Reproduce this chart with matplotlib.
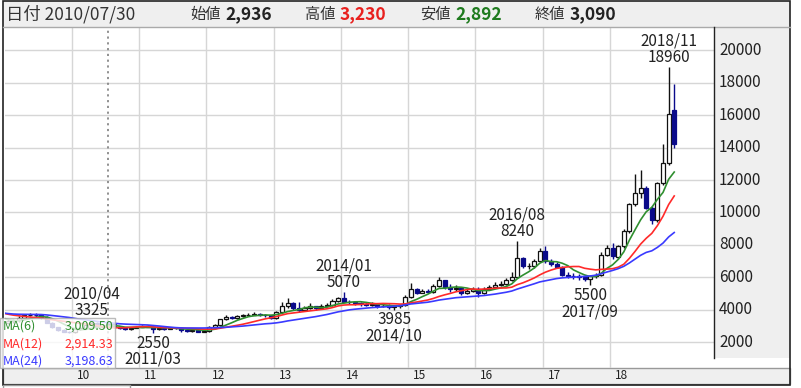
import pandas as pd
import matplotlib.pyplot as plt
from matplotlib.patches import Rectangle
from matplotlib import transforms

plt.rcParams['font.family'] = ['Noto Sans CJK JP', 'DejaVu Sans']

# monthly OHLC, 2008/01 .. 2018/12
opens = [4300, 4200, 4100, 4000, 4100, 4200, 4000, 3900, 3800, 3600, 3300, 3200,
         3200, 3300, 3350, 3500, 3650, 3700, 3650, 3550, 3200, 2900, 2750, 2650,
         2600, 2814, 2850, 3050, 3200, 2931, 2936, 3090, 2900, 2850, 2800, 2880,
         2950, 2980, 2950, 2800, 2850, 2800, 2850, 2870, 2750, 2700, 2720, 2650,
         2700, 2950, 3050, 3400, 3550, 3500, 3600, 3650, 3700, 3750, 3700, 3650,
         3500, 3850, 4200, 4400, 4100, 4000, 4100, 4200, 4100, 4250, 4300, 4550,
         4700, 4500, 4450, 4400, 4350, 4300, 4350, 4200, 4250, 4150, 4200, 4300,
         4800, 5300, 5050, 5150, 5100, 5450, 5800, 5400, 5300, 5350, 5000, 5150,
         5300, 5000, 5250, 5400, 5500, 5600, 5800, 6000, 7200, 6700, 6700, 7000,
         7600, 7000, 6800, 6650, 6150, 6100, 6050, 6000, 5900, 6050, 6150, 7400,
         7800, 7250, 7900, 8850, 10500, 11200, 11500, 10300, 9550, 11800, 13050, 16300]
highs = [4450, 4300, 4200, 4250, 4350, 4250, 4100, 4000, 3900, 3700, 3400, 3350,
         3400, 3450, 3600, 3750, 3800, 3800, 3700, 3600, 3250, 2950, 2800, 2700,
         2900, 2950, 3100, 3325, 3220, 3000, 3230, 3100, 2950, 2900, 2950, 3000,
         3050, 3050, 3000, 2900, 2900, 2900, 2950, 2900, 2780, 2780, 2750, 2750,
         3000, 3100, 3450, 3650, 3600, 3700, 3750, 3800, 3850, 3800, 3750, 3700,
         3900, 4500, 4700, 4450, 4500, 4250, 4400, 4250, 4350, 4400, 4650, 4800,
         5070, 4600, 4550, 4500, 4450, 4450, 4400, 4350, 4350, 4300, 4300, 4900,
         5650, 5350, 5300, 5300, 5600, 6000, 5850, 5600, 5500, 5400, 5250, 5400,
         5400, 5400, 5550, 5700, 5750, 5950, 6300, 8240, 7250, 6900, 7150, 7800,
         7900, 7150, 6950, 6700, 6300, 6250, 6200, 6100, 6150, 6250, 7550, 7990,
         8100, 8000, 8950, 10600, 12400, 12600, 11600, 10400, 11900, 14200, 18960, 17900]
lows = [4050, 3950, 3850, 3900, 4000, 3900, 3800, 3700, 3450, 3000, 3050, 3050,
        3100, 3200, 3250, 3450, 3600, 3550, 3450, 3150, 2850, 2700, 2600, 2570,
        2580, 2750, 2800, 3000, 2850, 2850, 2892, 2850, 2780, 2720, 2760, 2850,
        2900, 2900, 2550, 2750, 2750, 2780, 2800, 2650, 2650, 2650, 2600, 2620,
        2650, 2900, 3000, 3350, 3400, 3450, 3550, 3600, 3650, 3600, 3550, 3400,
        3450, 3800, 4100, 4000, 3850, 3900, 4050, 4000, 4050, 4150, 4250, 4500,
        4450, 4350, 4300, 4250, 4200, 4250, 4100, 4150, 4050, 3985, 4100, 4250,
        4750, 4950, 5000, 5000, 5050, 5400, 5300, 5100, 5150, 4900, 4950, 5100,
        4800, 4950, 5200, 5350, 5450, 5550, 5750, 5950, 6600, 6500, 6600, 6950,
        6900, 6700, 6550, 6050, 5950, 5900, 5850, 5750, 5500, 5950, 6050, 7300,
        7150, 7100, 7800, 8750, 10400, 10900, 10200, 9300, 9400, 11700, 12950, 14000]
closes = [4200, 4100, 4000, 4100, 4200, 4000, 3900, 3800, 3600, 3300, 3200, 3200,
          3300, 3350, 3500, 3650, 3700, 3650, 3550, 3200, 2900, 2750, 2650, 2600,
          2814, 2850, 3050, 3200, 2931, 2936, 3090, 2900, 2850, 2800, 2880, 2950,
          2980, 2950, 2800, 2850, 2800, 2850, 2870, 2750, 2700, 2720, 2650, 2700,
          2950, 3050, 3400, 3550, 3500, 3600, 3650, 3700, 3750, 3700, 3650, 3500,
          3850, 4200, 4400, 4100, 4000, 4100, 4200, 4100, 4250, 4300, 4550, 4700,
          4500, 4450, 4400, 4350, 4300, 4350, 4200, 4250, 4150, 4200, 4300, 4800,
          5300, 5050, 5150, 5100, 5450, 5800, 5400, 5300, 5350, 5000, 5150, 5300,
          5000, 5250, 5400, 5500, 5600, 5800, 6000, 7200, 6700, 6700, 7000, 7600,
          7000, 6800, 6650, 6150, 6100, 6050, 6000, 5900, 6050, 6150, 7400, 7800,
          7300, 7900, 8850, 10500, 11200, 11500, 10300, 9550, 11800, 13050, 16050, 14200]

years = ["10", "11", "12", "13", "14", "15", "16", "17", "18"]
y_ticks = [2000, 4000, 6000, 8000, 10000, 12000, 14000, 16000, 18000, 20000]

# labelled extremes: (month label, value, month index, above?)
marks = [("2010/04", "3325", 27, True), ("2011/03", "2550", 38, False),
         ("2014/01", "5070", 72, True), ("2014/10", "3985", 81, False),
         ("2016/08", "8240", 103, True), ("2017/09", "5500", 116, False),
         ("2018/11", "18960", 130, True)]

df = pd.DataFrame({"o": opens, "h": highs, "l": lows, "c": closes})
ma6 = df["c"].rolling(6, min_periods=1).mean()
ma12 = df["c"].rolling(12, min_periods=1).mean()
ma24 = df["c"].rolling(24, min_periods=1).mean()

W, H = 801, 388
fig = plt.figure(figsize=(W / 100, H / 100), dpi=100)

def fx(x):
    return x / W

def fy(y):
    return 1 - y / H

# frames / backgrounds
fig.add_artist(Rectangle((fx(3), fy(27)), fx(787), 26 / H, fc="#efefef", ec="none", zorder=0))
fig.add_artist(Rectangle((fx(714), fy(358)), fx(76), 331 / H, fc="#efefef", ec="none", zorder=0))
fig.add_artist(Rectangle((fx(3), fy(384)), fx(787), 16 / H, fc="#efefef", ec="#999999", lw=1, zorder=0))
fig.add_artist(Rectangle((fx(3), fy(385)), fx(787), 384 / H, fc="none", ec="#222222", lw=1.2, zorder=8))
fig.add_artist(plt.Line2D([fx(3), fx(790)], [fy(27), fy(27)], color="#aaaaaa", lw=1, zorder=8))
fig.add_artist(plt.Line2D([fx(714), fx(714)], [fy(27), fy(358)], color="#222222", lw=1, zorder=8))
fig.add_artist(Rectangle((fx(3), fy(391)), fx(127), 6 / H, fc="none", ec="#999999", lw=1, zorder=8))

ax = fig.add_axes([fx(5), fy(368), fx(709), 341 / H])
ax.set_xlim(11.54, 138.1)
ax.set_ylim(401, 21440)
ax.axis("off")

for v in y_ticks:
    ax.axhline(v, color="#d6d6d6", lw=1, zorder=0)
for k in range(len(years)):
    ax.axvline(24 + 12 * k - 0.5, color="#d6d6d6", lw=1, zorder=0)
ax.axvline(30, color="#888888", lw=1.3, ls=(0, (1.2, 2)), zorder=1)

for i in range(len(closes)):
    o, h, l, c = opens[i], highs[i], lows[i], closes[i]
    if c >= o:
        col, face = "#111111", "white"
    else:
        col, face = "#0a0a8a", "#0a0a8a"
    ax.vlines(i, l, h, color=col, lw=1, zorder=2)
    ax.bar(i, max(abs(c - o), 25), bottom=min(o, c), width=0.72,
           color=face, edgecolor=col, lw=0.9, zorder=3)

x = range(len(closes))
ax.plot(x, ma6, color="#2f8f2f", lw=1.2, zorder=4)
ax.plot(x, ma12, color="#ff2a2a", lw=1.2, zorder=4)
ax.plot(x, ma24, color="#3a3aff", lw=1.2, zorder=4)

for date, val, i, above in marks:
    if above:
        ax.annotate(date + "\n" + val, xy=(i, highs[i]), xytext=(0, 1),
                    textcoords="offset points", ha="center", va="bottom",
                    fontsize=11, linespacing=0.95, color="#222222", zorder=6)
    else:
        ax.annotate(val + "\n" + date, xy=(i, lows[i]), xytext=(0, -1),
                    textcoords="offset points", ha="center", va="top",
                    fontsize=11, linespacing=0.95, color="#222222", zorder=6)

# right axis labels
tr = transforms.blended_transform_factory(fig.transFigure, ax.transData)
for v in y_ticks:
    ax.text(fx(719), v, str(v), transform=tr, fontsize=11, va="center", ha="left",
            color="#222222", clip_on=False)

# year labels
trx = transforms.blended_transform_factory(ax.transData, fig.transFigure)
for k, yl in enumerate(years):
    ax.text(24 + 12 * k + 0.4, fy(375.5), yl, transform=trx, fontsize=8.5,
            va="center", ha="left", color="#222222", clip_on=False)

# MA legend box
fig.add_artist(Rectangle((fx(0), fy(368)), fx(115), 50 / H, fc="white", alpha=0.8,
                         ec="#aaaaaa", lw=1, zorder=9))
rows = [("MA(6)", "3,009.50", "#2f8f2f", 326), ("MA(12)", "2,914.33", "#ff2a2a", 344),
        ("MA(24)", "3,198.63", "#3a3aff", 361)]
for name, val, col, yy in rows:
    fig.text(fx(3), fy(yy), name, fontsize=9, color=col, va="center", ha="left", zorder=10)
    fig.text(fx(113), fy(yy), val, fontsize=9, color=col, va="center", ha="right", zorder=10)

# header
hy = fy(14)
fig.text(fx(6), hy, "日付 2010/07/30", fontsize=12.5, color="#333333", va="center")
head = [("始値", "2,936", "#222222", 190), ("高値", "3,230", "#e8201e", 305),
        ("安値", "2,892", "#1e7a1e", 420), ("終値", "3,090", "#222222", 535)]
for name, val, col, xx in head:
    fig.text(fx(xx), hy, name, fontsize=11, color="#333333", va="center")
    fig.text(fx(xx + 35), hy, val, fontsize=12.5, color=col, va="center", fontweight="bold")

fig.savefig("out.png", dpi=100)
